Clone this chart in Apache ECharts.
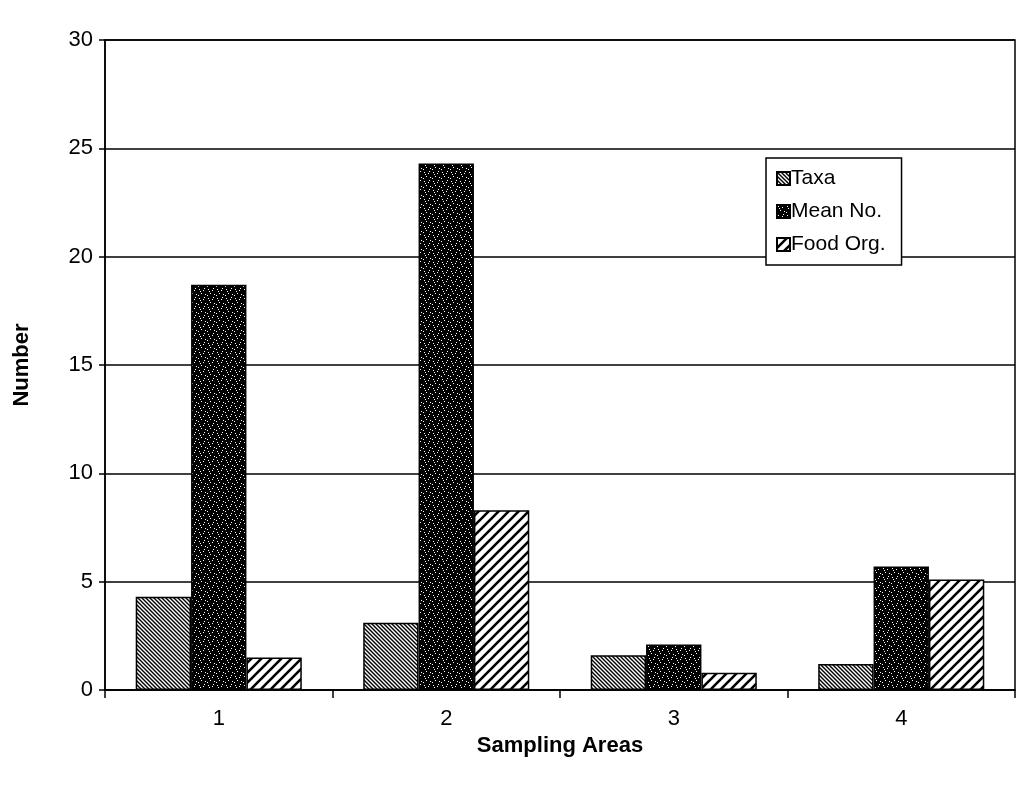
<!DOCTYPE html>
<html>
<head>
<meta charset="utf-8">
<script src="https://cdn.jsdelivr.net/npm/echarts@6/dist/echarts.min.js"></script>
<style>
html,body{margin:0;padding:0;background:#fff;}
#chart{width:1030px;height:786px;}
</style>
</head>
<body>
<div id="chart"></div>
<script>
const categories = ['1', '2', '3', '4'];
const taxa = [4.3, 3.1, 1.6, 1.2];
const meanNo = [18.7, 24.3, 2.1, 5.7];
const foodOrg = [1.5, 8.3, 0.8, 5.1];
const yTicks = { min: 0, max: 30, interval: 5 };

function makePattern(kind) {
  const c = document.createElement('canvas');
  const ctx = c.getContext('2d');
  if (kind === 'taxa') {
    c.width = 4; c.height = 4;
    ctx.fillStyle = '#fff'; ctx.fillRect(0, 0, 4, 4);
    ctx.strokeStyle = '#000'; ctx.lineWidth = 1.4;
    ctx.beginPath();
    ctx.moveTo(-1, -1); ctx.lineTo(5, 5);
    ctx.moveTo(3, -1); ctx.lineTo(5, 1);
    ctx.moveTo(-1, 3); ctx.lineTo(1, 5);
    ctx.stroke();
  } else if (kind === 'mean') {
    c.width = 9; c.height = 9;
    ctx.fillStyle = '#000'; ctx.fillRect(0, 0, 9, 9);
    ctx.fillStyle = '#fff';
    [[1,1],[5,2],[3,5],[7,6],[0,7],[6,0],[2,3]].forEach(p => ctx.fillRect(p[0], p[1], 1, 1));
  } else {
    c.width = 10; c.height = 10;
    ctx.fillStyle = '#fff'; ctx.fillRect(0, 0, 10, 10);
    ctx.strokeStyle = '#000'; ctx.lineWidth = 2.6;
    ctx.beginPath();
    ctx.moveTo(-1, 11); ctx.lineTo(11, -1);
    ctx.moveTo(-1, 1); ctx.lineTo(1, -1);
    ctx.moveTo(9, 11); ctx.lineTo(11, 9);
    ctx.stroke();
  }
  return { image: c, repeat: 'repeat' };
}

const chart = echarts.init(document.getElementById('chart'), null, { renderer: 'canvas' });
const font = 'Liberation Sans, Arial, sans-serif';
const barStyle = (k) => ({ color: makePattern(k), borderColor: '#000', borderWidth: 1.5 });

chart.setOption({
  backgroundColor: '#fff',
  animation: false,
  textStyle: { fontFamily: font, color: '#000' },
  grid: { left: 105, right: 15, top: 40, bottom: 96, show: true, borderColor: '#000', borderWidth: 1.5, backgroundColor: 'transparent' },
  legend: {
    orient: 'vertical',
    left: 766, top: 158,
    backgroundColor: '#fff',
    borderColor: '#000', borderWidth: 1.5,
    padding: [10, 16, 10, 10],
    itemGap: 12,
    itemWidth: 13, itemHeight: 13,
    icon: 'rect',
    textStyle: { fontFamily: font, fontSize: 21, color: '#000', padding: [0, 0, 0, -4] },
    data: ['Taxa', 'Mean No.', 'Food Org.']
  },
  xAxis: {
    type: 'category',
    data: categories,
    boundaryGap: true,
    name: 'Sampling Areas',
    nameLocation: 'middle',
    nameGap: 44,
    nameTextStyle: { fontFamily: font, fontSize: 22, fontWeight: 'bold', color: '#000' },
    axisLine: { show: true, lineStyle: { color: '#000', width: 1.5 } },
    axisTick: { show: true, alignWithLabel: false, length: 8, lineStyle: { color: '#000', width: 1.5 } },
    axisLabel: { fontFamily: font, fontSize: 22, color: '#000', margin: 18 },
    splitLine: { show: false }
  },
  yAxis: {
    type: 'value',
    min: yTicks.min, max: yTicks.max, interval: yTicks.interval,
    name: 'Number',
    nameLocation: 'middle',
    nameGap: 72,
    nameTextStyle: { fontFamily: font, fontSize: 22, fontWeight: 'bold', color: '#000' },
    axisLine: { show: true, lineStyle: { color: '#000', width: 1.5 } },
    axisTick: { show: true, length: 6, lineStyle: { color: '#000', width: 1.5 } },
    axisLabel: { fontFamily: font, fontSize: 22, color: '#000', margin: 12 },
    splitLine: { show: true, lineStyle: { color: '#000', width: 1.5 } }
  },
  series: [
    { name: 'Taxa', type: 'bar', data: taxa, itemStyle: barStyle('taxa'), barGap: '0%', barCategoryGap: '27%' },
    { name: 'Mean No.', type: 'bar', data: meanNo, itemStyle: barStyle('mean'), barGap: '0%', barCategoryGap: '27%' },
    { name: 'Food Org.', type: 'bar', data: foodOrg, itemStyle: barStyle('food'), barGap: '0%', barCategoryGap: '27%' }
  ]
});
</script>
</body>
</html>
